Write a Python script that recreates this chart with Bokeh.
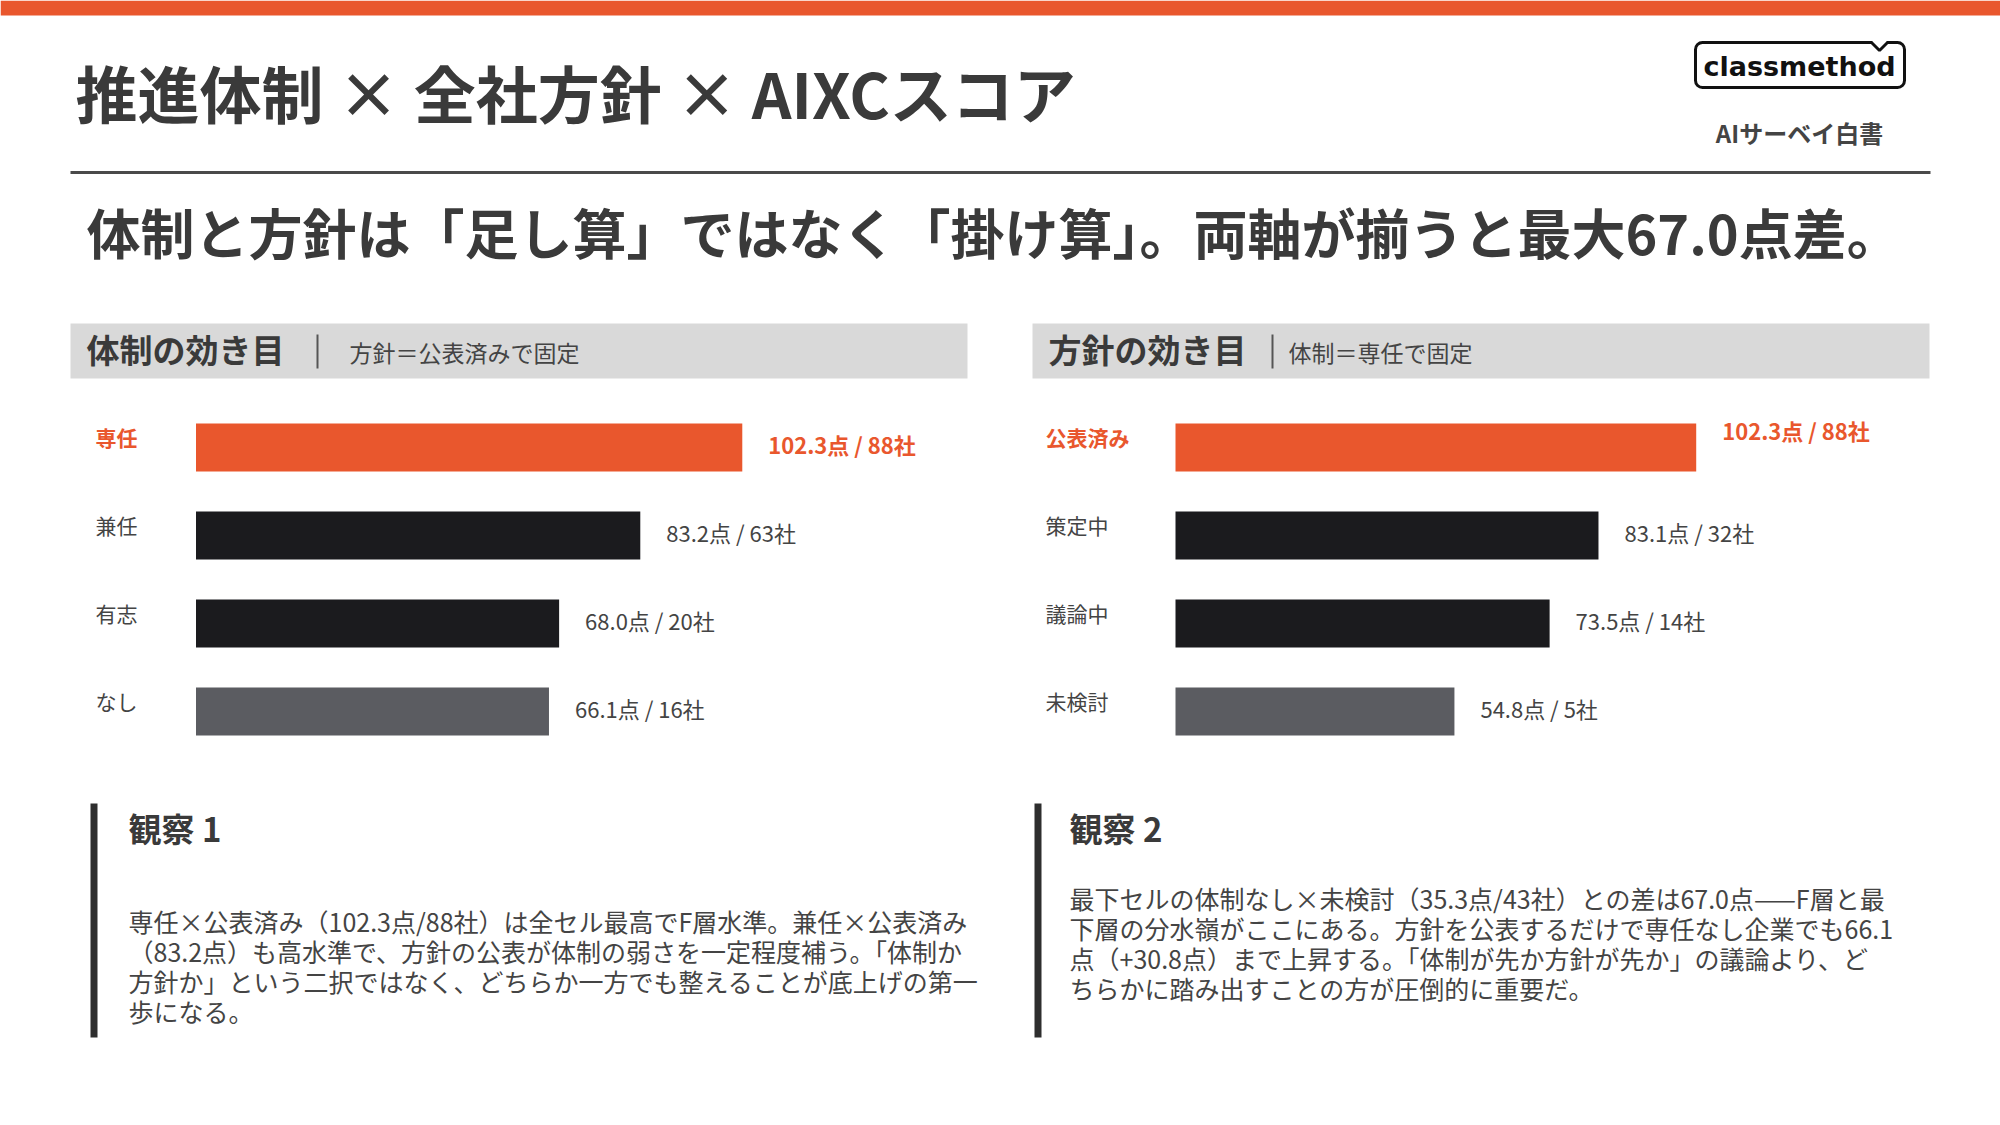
from bokeh.plotting import figure
from bokeh.models import Range1d, ColumnDataSource
from bokeh.core.properties import value
from bokeh.embed import file_html
from bokeh.resources import INLINE

# ---------------- data ----------------
left_cats = ["専任", "兼任", "有志", "なし"]
left_scores = [102.3, 83.2, 68.0, 66.1]
left_counts = [88, 63, 20, 16]

right_cats = ["公表済み", "策定中", "議論中", "未検討"]
right_scores = [102.3, 83.1, 73.5, 54.8]
right_counts = [88, 32, 14, 5]

title = "推進体制 × 全社方針 × AIXCスコア"
subtitle = "体制と方針は「足し算」ではなく「掛け算」。両軸が揃うと最大67.0点差。"
left_head = "体制の効き目"
left_note = "方針＝公表済みで固定"
right_head = "方針の効き目"
right_note = "体制＝専任で固定"
obs1_title = "観察 1"
obs1_lines = [
    "専任×公表済み（102.3点/88社）は全セル最高でF層水準。兼任×公表済み",
    "（83.2点）も高水準で、方針の公表が体制の弱さを一定程度補う。「体制か",
    "方針か」という二択ではなく、どちらか一方でも整えることが底上げの第一",
    "歩になる。",
]
obs2_title = "観察 2"
obs2_lines = [
    "最下セルの体制なし×未検討（35.3点/43社）との差は67.0点——F層と最",
    "下層の分水嶺がここにある。方針を公表するだけで専任なし企業でも66.1",
    "点（+30.8点）まで上昇する。「体制が先か方針が先か」の議論より、ど",
    "ちらかに踏み出すことの方が圧倒的に重要だ。",
]

# ---------------- style ----------------
FONT = "Noto Sans CJK JP"
ORANGE = "#E9572D"
BLACK = "#1B1B1E"
GRAY = "#5B5C61"
TEXT = "#3A3A3A"
SUB = "#444444"
bar_colors = [ORANGE, BLACK, BLACK, GRAY]

W, H = 2000, 1125
p = figure(width=W, height=H, x_range=Range1d(0, W), y_range=Range1d(H, 0),
           output_backend="svg", toolbar_location=None,
           x_axis_location=None, y_axis_location=None, min_border=0)
p.grid.visible = False
p.outline_line_color = None
p.background_fill_color = "white"
p.border_fill_color = "white"

# scales for the two bar panels (px per point, zero position) and rows
ROW0, ROWSTEP = 447, 88
p.extra_x_ranges = {
    "lx": Range1d(-195.5 / 5.34, (W - 195.5) / 5.34),
    "rx": Range1d(-1175.0 / 5.09, (W - 1175.0) / 5.09),
}
p.extra_y_ranges = {"cat": Range1d((H - ROW0) / ROWSTEP, -ROW0 / ROWSTEP)}


def txt(x, y, s, size, color, bold=False, align="left", baseline="middle", font=FONT):
    p.text(x=[x], y=[y], text=[s], text_font=value(font), text_font_size=f"{size}px",
           text_color=color, text_font_style="bold" if bold else "normal",
           text_align=align, text_baseline=baseline)


# top strip
p.quad(left=0, right=W, top=0, bottom=15, fill_color=ORANGE, line_color=None)

# title
txt(75, 91, title, 62, TEXT, bold=True)
p.segment(x0=70, y0=172, x1=1930, y1=172, line_color="#4A4A4A", line_width=3)

# logo
p.quad(left=1695, right=1904, top=42, bottom=87, fill_color="white",
       line_color="#111111", line_width=3, border_radius=7)
p.quad(left=1872, right=1886, top=39, bottom=44, fill_color="white", line_color=None)
p.line(x=[1871, 1879, 1887], y=[42, 50, 42], line_color="#111111", line_width=3)
txt(1799, 66, "classmethod", 27, "#111111", bold=True, align="center", font="DejaVu Sans")
txt(1799, 132, "AIサーベイ白書", 24, SUB, bold=True, align="center")

# subtitle
txt(86, 231, subtitle, 54, TEXT, bold=True)

# panel headers
for (bx0, bx1, tx, dx, nx, head, note) in [
    (70, 967, 86, 317, 349, left_head, left_note),
    (1032, 1929, 1048, 1272, 1288, right_head, right_note),
]:
    p.quad(left=bx0, right=bx1, top=323, bottom=378, fill_color="#D9D9D9", line_color=None)
    txt(tx, 348, head, 33, TEXT, bold=True)
    p.segment(x0=dx, y0=334, x1=dx, y1=368, line_color="#555555", line_width=2)
    txt(nx, 351, note, 23, SUB)

# bar panels
for (cats, scores, counts, xr, label_x, top_raise) in [
    (left_cats, left_scores, left_counts, "lx", 95, -4),
    (right_cats, right_scores, right_counts, "rx", 1045, -18),
]:
    n = len(cats)
    src = ColumnDataSource(dict(
        idx=list(range(n)),
        score=scores,
        zero=[0] * n,
        cat=cats,
        label=[f"{s:.1f}点 / {c}社" for s, c in zip(scores, counts)],
        color=bar_colors[:n],
        tcolor=[ORANGE] + [SUB] * (n - 1),
        tstyle=["bold"] + ["normal"] * (n - 1),
        voff=[top_raise] + [-4] * (n - 1),
        lx=[label_x] * n,
    ))
    p.hbar(y="idx", left="zero", right="score", height=48 / ROWSTEP, source=src,
           fill_color="color", line_color=None, x_range_name=xr, y_range_name="cat")
    p.text(x="score", y="idx", text="label", source=src, x_offset=26, y_offset="voff",
           text_font=value(FONT), text_font_size="22px", text_color="tcolor",
           text_font_style="tstyle", text_baseline="middle",
           x_range_name=xr, y_range_name="cat")
    p.text(x="lx", y="idx", text="cat", source=src, y_offset=-11,
           text_font=value(FONT), text_font_size="21px", text_color="tcolor",
           text_font_style="tstyle", text_baseline="middle", y_range_name="cat")

# observations
for (bx, tx, first_y, head, lines) in [
    (93.5, 128, 920, obs1_title, obs1_lines),
    (1037.5, 1069, 897, obs2_title, obs2_lines),
]:
    p.segment(x0=bx, y0=803, x1=bx, y1=1037, line_color="#2E2E2E", line_width=7)
    txt(tx, 827, head, 33, TEXT, bold=True)
    p.text(x=[tx] * len(lines), y=[first_y + 30 * i for i in range(len(lines))],
           text=lines, text_font=value(FONT), text_font_size="25px",
           text_color=SUB, text_baseline="middle")

open("out.html", "w").write(file_html(p, INLINE))
